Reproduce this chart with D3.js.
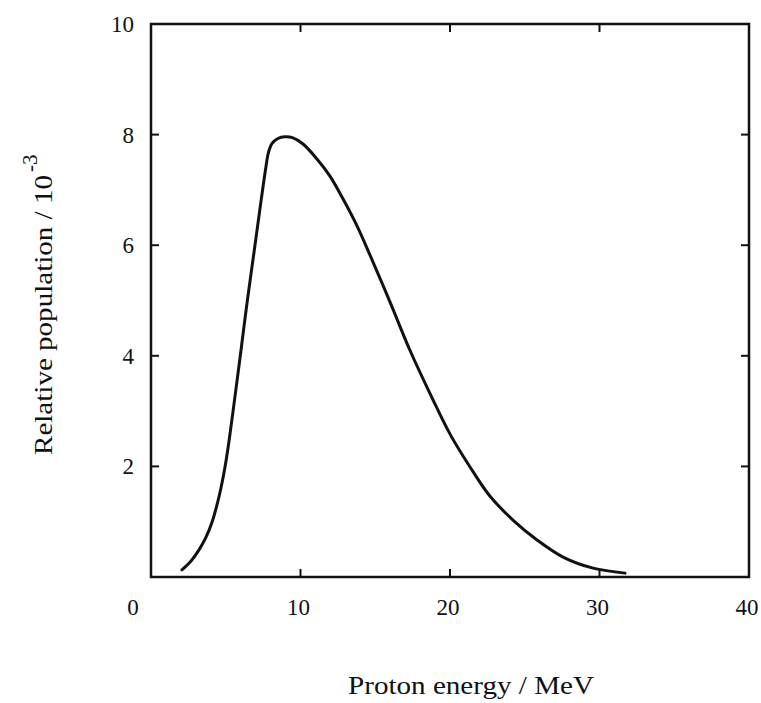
<!DOCTYPE html>
<html>
<head>
<meta charset="utf-8">
<script src="https://cdn.jsdelivr.net/npm/d3@7"></script>
<style>
  html, body { margin: 0; padding: 0; background: #fff; }
  svg { display: block; }
  text { font-family: "Liberation Serif", "DejaVu Serif", serif; fill: #111; }
</style>
</head>
<body>
<svg id="chart" width="761" height="703"></svg>
<script>
// Data
const energy = [2.07, 2.68, 3.21, 3.68, 4.08, 4.41, 4.68, 4.95, 5.22, 5.62, 6.02, 6.45, 6.91, 7.37, 7.69, 7.86, 8.1, 8.49, 8.96, 9.5, 10.17, 11.1, 11.97, 12.84, 13.78, 14.65, 15.99, 17.32, 18.8, 20.03, 21.34, 22.68, 24.21, 25.82, 27.56, 29.57, 31.71];
const population = [0.13, 0.29, 0.49, 0.72, 0.99, 1.3, 1.61, 1.99, 2.46, 3.27, 4.1, 5.01, 5.91, 6.82, 7.42, 7.68, 7.84, 7.93, 7.96, 7.94, 7.83, 7.56, 7.25, 6.84, 6.35, 5.82, 4.97, 4.1, 3.24, 2.57, 1.99, 1.46, 1.03, 0.67, 0.36, 0.16, 0.07];
const xTicks = [0, 10, 20, 30, 40];
const yTicks = [2, 4, 6, 8, 10];
const xTitle = "Proton energy / MeV";
const yTitle = "Relative population / 10";
const yTitleExp = "-3";

const svg = d3.select("#chart");
const x = d3.scaleLinear().domain([0, 40]).range([151, 749]);
const y = d3.scaleLinear().domain([0, 10]).range([577, 24]);

const ink = "#111";

// frame
svg.append("rect")
  .attr("x", x(0)).attr("y", y(10))
  .attr("width", x(40) - x(0)).attr("height", y(0) - y(10))
  .attr("fill", "none").attr("stroke", ink).attr("stroke-width", 2.5);

const tl = 8;
// inner ticks: bottom/top
[10, 20, 30].forEach(v => {
  svg.append("line").attr("x1", x(v)).attr("x2", x(v)).attr("y1", y(0)).attr("y2", y(0) - tl)
    .attr("stroke", ink).attr("stroke-width", 2);
  svg.append("line").attr("x1", x(v)).attr("x2", x(v)).attr("y1", y(10)).attr("y2", y(10) + tl)
    .attr("stroke", ink).attr("stroke-width", 2);
});
// inner ticks: left/right
[2, 4, 6, 8].forEach(v => {
  svg.append("line").attr("x1", x(0)).attr("x2", x(0) + tl).attr("y1", y(v)).attr("y2", y(v))
    .attr("stroke", ink).attr("stroke-width", 2);
  svg.append("line").attr("x1", x(40)).attr("x2", x(40) - tl).attr("y1", y(v)).attr("y2", y(v))
    .attr("stroke", ink).attr("stroke-width", 2);
});

// x tick labels
svg.selectAll(".xl").data(xTicks).enter().append("text")
  .attr("class", "xl")
  .attr("x", d => d === 0 ? x(0) - 18 : x(d) - 2)
  .attr("y", 615)
  .attr("text-anchor", "middle")
  .attr("font-size", 23)
  .text(d => d);

// y tick labels
svg.selectAll(".yl").data(yTicks).enter().append("text")
  .attr("class", "yl")
  .attr("x", 134)
  .attr("y", d => y(d) + 8)
  .attr("text-anchor", "end")
  .attr("font-size", 23)
  .text(d => d);

// curve
const line = d3.line()
  .x((d, i) => x(energy[i]))
  .y((d, i) => y(population[i]))
  .curve(d3.curveCatmullRom.alpha(0.5));
svg.append("path")
  .datum(energy)
  .attr("d", line)
  .attr("fill", "none")
  .attr("stroke", ink)
  .attr("stroke-width", 3)
  .attr("stroke-linecap", "round")
  .attr("stroke-linejoin", "round");

// x title
svg.append("text")
  .attr("x", 348).attr("y", 694)
  .attr("font-size", 25)
  .attr("textLength", 246)
  .attr("lengthAdjust", "spacingAndGlyphs")
  .text(xTitle);

// y title
svg.append("text")
  .attr("transform", "translate(52,455) rotate(-90)")
  .attr("font-size", 26)
  .attr("textLength", 280)
  .attr("lengthAdjust", "spacingAndGlyphs")
  .text(yTitle);
svg.append("text")
  .attr("transform", "translate(37,172) rotate(-90)")
  .attr("font-size", 21)
  .text(yTitleExp);
</script>
</body>
</html>
